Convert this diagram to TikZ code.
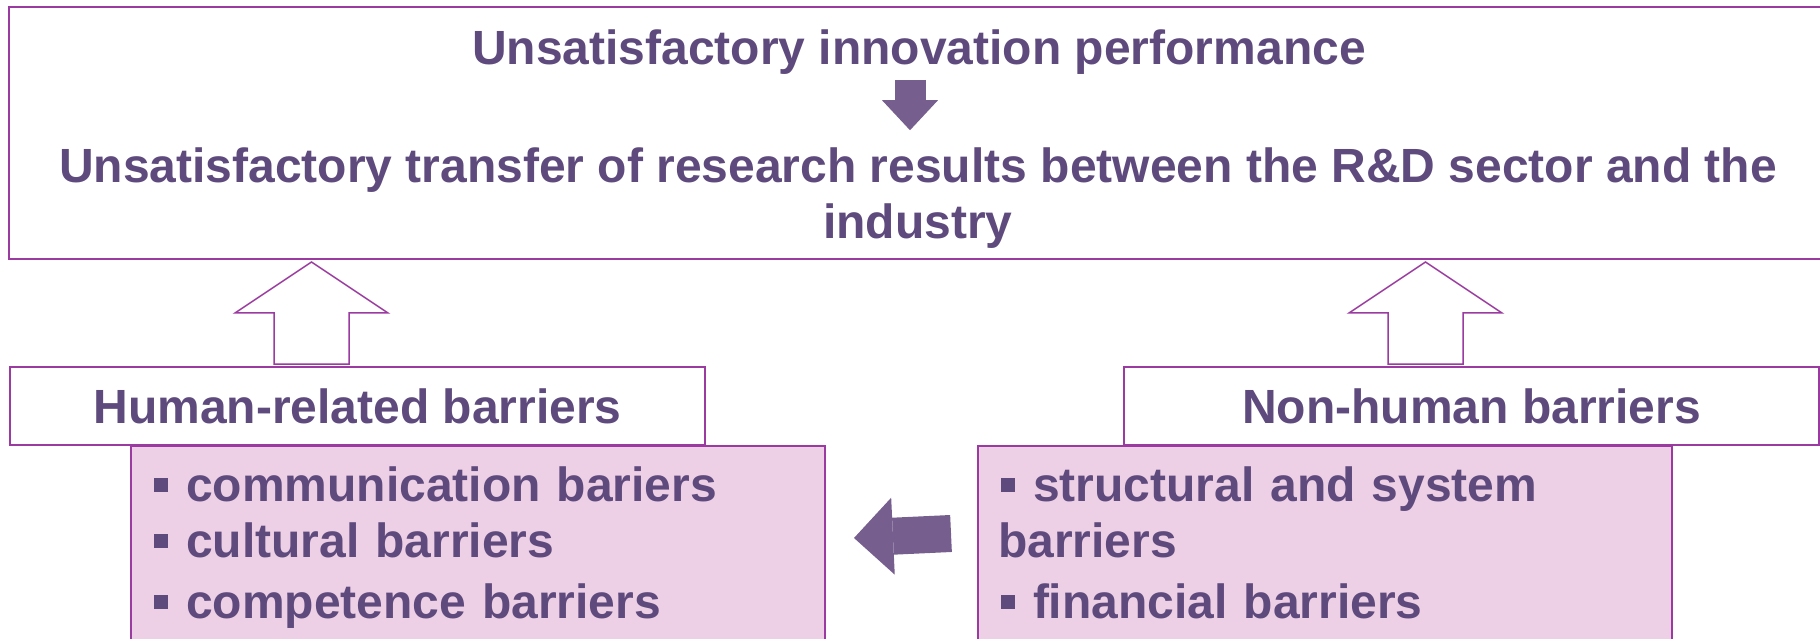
\documentclass[tikz,border=0pt]{standalone}
\usepackage{fontspec}
\setmainfont{Liberation Sans}
\usetikzlibrary{positioning, arrows.meta}

\definecolor{txtpurple}{RGB}{94,74,124}
\definecolor{arrpurple}{RGB}{118,94,142}
\definecolor{framepurple}{RGB}{155,58,160}
\definecolor{listpink}{RGB}{237,208,230}

% square bullet in front of a list item
\newcommand{\sqbullet}{\hspace{1.5pt}\rule[4.5pt]{7pt}{7pt}\hspace{9pt}}

\begin{document}
\begin{tikzpicture}[
    x=1pt, y=1pt,
    every node/.style={font=\fontsize{24}{28}\selectfont\bfseries, text=txtpurple, outer sep=0pt},
    outerbox/.style={rectangle, draw=framepurple, line width=1pt, fill=white},
    headbox/.style={outerbox, minimum width=347.5pt, minimum height=39pt},
    listbox/.style={rectangle, draw=framepurple, line width=1pt, fill=listpink,
        text width=327pt, align=left, inner xsep=10pt, inner ysep=10.3pt},
    titletext/.style={inner sep=0pt, align=center},
    fatarrow/.style={draw=arrpurple, line width=#1},
    hollowup/.pic={
        \draw[framepurple, line width=0.75pt, fill=white]
            (-18.75,0) -- (-18.75,25.5) -- (-38.25,25.5) -- (0,51)
            -- (38.25,25.5) -- (18.75,25.5) -- (18.75,0) -- cycle;
    }
]
\useasboundingbox (0,0) rectangle (910,319);

% Outcome box
\node[outerbox, anchor=north west, minimum width=920pt, minimum height=126pt] (top) at (4.6,315.5) {};
\node[titletext, anchor=base] (perf) at (459.5,286.5) {Unsatisfactory innovation performance};
\node[titletext, anchor=base] (transfer) at (459,199.5)
    {Unsatisfactory transfer of research results between the R\&D sector and the\\industry};
\draw[fatarrow=15.5pt, shorten <=2.5pt, shorten >=9pt,
    -{Triangle[width=28pt,length=15pt,line width=0pt]}]
    ([xshift=-4.5pt]perf.south) -- ([xshift=-4pt]transfer.north);

% Barrier groups
\node[headbox, anchor=north west] (hum) at (5,135.5) {Human-related barriers};
\node[headbox, anchor=north west] (nonhum) at (562,135.5) {Non-human barriers};

\node[listbox, anchor=north west] (humlist) at (65.5,96)
    {\sqbullet communication bariers\\
     \sqbullet cultural barriers\\[2.5pt]
     \sqbullet competence barriers\strut};
\node[listbox, anchor=north west] (nonlist) at (489,96)
    {\sqbullet structural and system\\
     barriers\\[2.5pt]
     \sqbullet financial barriers\strut};

% Arrows
\pic at ([xshift=-23pt,yshift=1.5pt]hum.north) {hollowup};
\pic at ([xshift=-23pt,yshift=1.5pt]nonhum.north) {hollowup};

\coordinate (arrR) at ([xshift=-13.5pt,yshift=-43.75pt]nonlist.north west);
\coordinate (arrL) at ([xshift=14.5pt,yshift=-46pt]humlist.north east);
\draw[fatarrow=18.5pt, -{Triangle[width=38.5pt,length=19.5pt,line width=0pt]}] (arrR) -- (arrL);

\end{tikzpicture}
\end{document}
